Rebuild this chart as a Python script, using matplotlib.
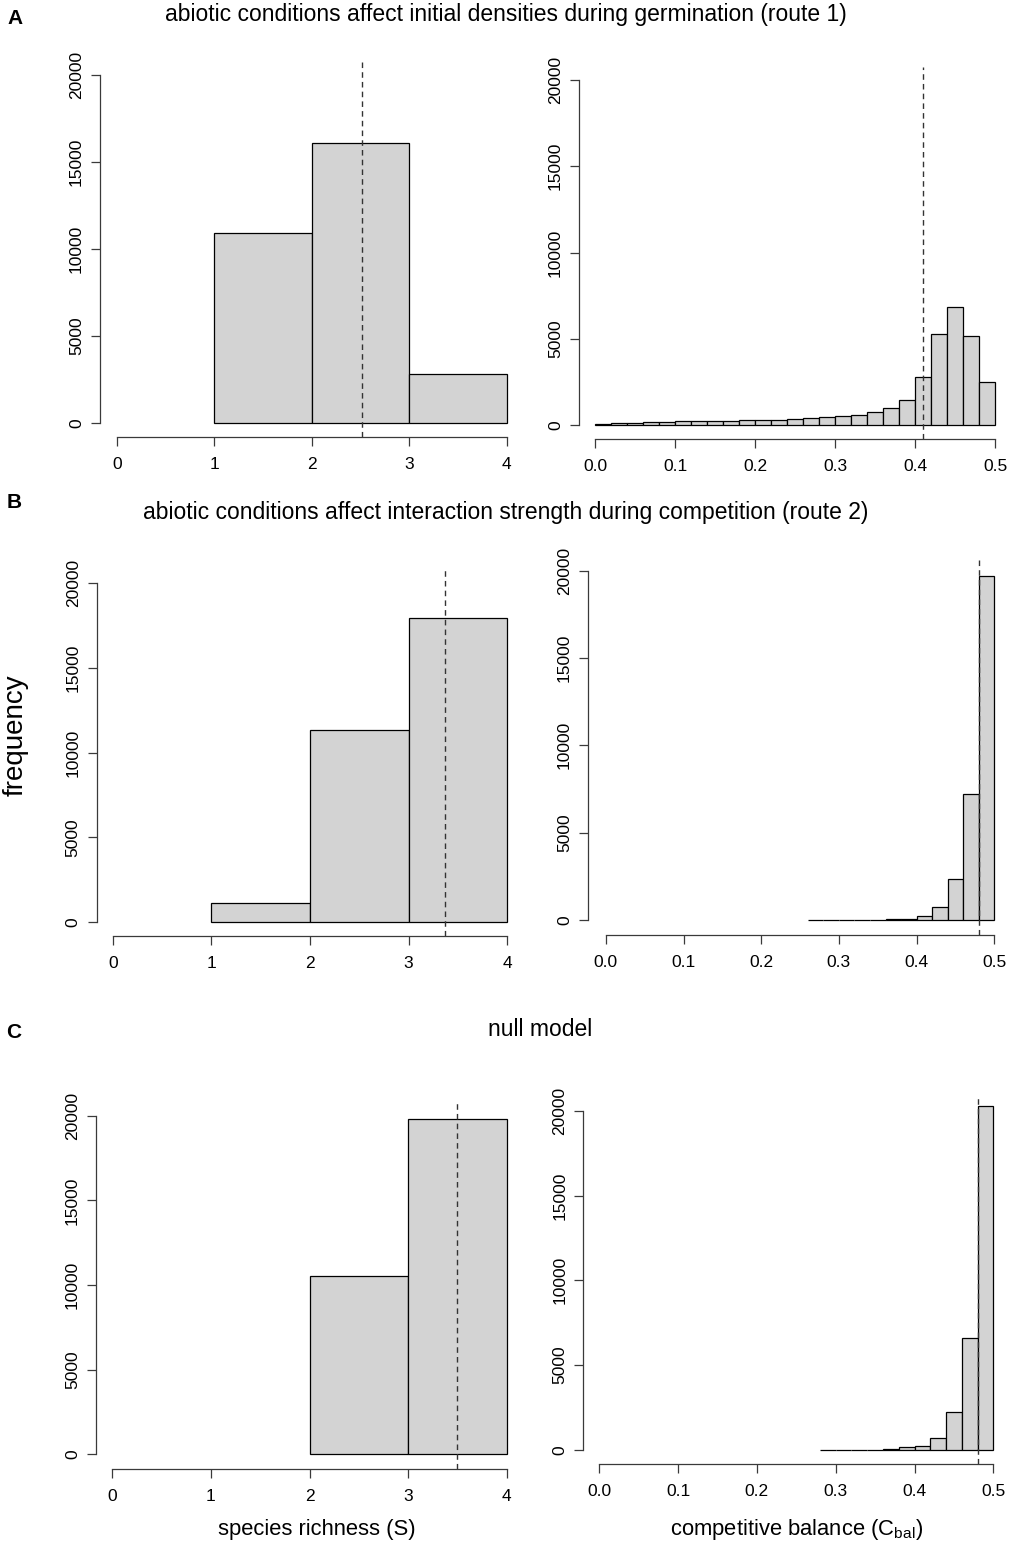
import matplotlib
matplotlib.use('Agg')
import matplotlib.pyplot as plt
import numpy as np

plt.rcParams['font.family'] = ['Liberation Sans', 'DejaVu Sans']
plt.rcParams['mathtext.fontset'] = 'custom'
plt.rcParams['mathtext.rm'] = 'Liberation Sans'

W, H, DPI = 1013, 1549, 100

# ---------------- data ----------------
y_ticks = [0, 5000, 10000, 15000, 20000]
richness_ticks = [0, 1, 2, 3, 4]
cbal_ticks = [0.0, 0.1, 0.2, 0.3, 0.4, 0.5]
cbal_tick_labels = ['0.0', '0.1', '0.2', '0.3', '0.4', '0.5']

# species richness histograms (bin width 1)
A_rich_left_edges = [1, 2, 3]
A_rich_counts = [10900, 16100, 2850]
B_rich_left_edges = [1, 2, 3]
B_rich_counts = [1150, 11300, 17900]
C_rich_left_edges = [2, 3]
C_rich_counts = [10550, 19800]

# competitive balance histograms (bin width 0.02)
A_cbal_start = 0.00
A_cbal_counts = [40, 95, 135, 175, 195, 215, 230, 230, 215, 270, 270, 310, 350,
                 385, 465, 520, 600, 735, 1005, 1470, 2760, 5250, 6860, 5140, 2470]
B_cbal_start = 0.26
B_cbal_counts = [5, 5, 10, 15, 25, 40, 80, 210, 740, 2320, 7200, 19700]
C_cbal_start = 0.28
C_cbal_counts = [5, 8, 15, 25, 60, 150, 250, 730, 2230, 6600, 20300]
cbal_binwidth = 0.02

# means (dashed lines)
A_rich_mean, A_cbal_mean = 2.52, 0.41
B_rich_mean, B_cbal_mean = 3.37, 0.48
C_rich_mean, C_cbal_mean = 3.50, 0.48

titles = ['abiotic conditions affect initial densities during germination (route 1)',
          'abiotic conditions affect interaction strength during competition (route 2)',
          'null model']
letters = ['A', 'B', 'C']

# ---------------- layout (pixels) ----------------
# (yaxis_x, xaxis_y, x_a, x_b, px_a, px_b, py0, py20k)
layouts = {
    'A_rich': (100.0, 436.7, 0, 4, 116.7, 506.7, 423.3, 74.7),
    'A_cbal': (579.0, 439.0, 0, 0.5, 595.0, 995.0, 425.0, 80.0),
    'B_rich': (96.7, 936.0, 0, 4, 112.7, 507.3, 922.3, 582.7),
    'B_cbal': (588.0, 935.0, 0, 0.5, 605.8, 994.3, 920.0, 570.7),
    'C_rich': (96.0, 1469.0, 0, 4, 112.3, 506.7, 1454.3, 1115.7),
    'C_cbal': (583.3, 1464.0, 0, 0.5, 599.3, 993.3, 1450.0, 1110.7),
}

fig = plt.figure(figsize=(W / DPI, H / DPI), dpi=DPI)
fig.patch.set_facecolor('white')

BAR_FACE = '#D3D3D3'
AXCOL = '#3a3a3a'
TICKLEN = 6.5  # points
TICKFS = 12.5


def make_ax(key):
    yx, xy, xa, xb, pxa, pxb, py0, py20 = layouts[key]
    sx = (pxb - pxa) / (xb - xa)
    off = pxa - yx
    L, R = yx, pxb + off
    xl = (xa - off / sx, xb + off / sx)
    sy = (py0 - py20) / 20000.0
    B = xy
    T = py20 - 13
    yl = (-(xy - py0) / sy, 20000 + 13 / sy)
    ax = fig.add_axes([L / W, 1 - B / H, (R - L) / W, (B - T) / H])
    ax.set_xlim(*xl)
    ax.set_ylim(*yl)
    ax.patch.set_alpha(0)
    for s in ['top', 'right']:
        ax.spines[s].set_visible(False)
    for s in ['left', 'bottom']:
        ax.spines[s].set_color(AXCOL)
        ax.spines[s].set_linewidth(0.9)
    ax.spines['left'].set_bounds(0, 20000)
    ax.spines['bottom'].set_bounds(xa, xb)
    ax.set_yticks(y_ticks)
    ax.set_yticklabels([str(v) for v in y_ticks], rotation=90, va='center')
    ax.tick_params(axis='both', direction='out', length=TICKLEN, width=0.9,
                   color=AXCOL, labelsize=TICKFS, labelcolor='black')
    ax.tick_params(axis='y', pad=5)
    ax.tick_params(axis='x', pad=8)
    return ax


def rich_panel(key, edges, counts, mean):
    ax = make_ax(key)
    ax.bar(edges, counts, width=1, align='edge', color=BAR_FACE,
           edgecolor='black', linewidth=0.9)
    ax.set_xticks(richness_ticks)
    ax.set_xticklabels([str(v) for v in richness_ticks])
    ax.axvline(mean, color='#333333', linewidth=1.0, linestyle=(0, (4, 3)))
    return ax


def cbal_panel(key, start, counts, mean):
    ax = make_ax(key)
    lefts = [start + i * cbal_binwidth for i in range(len(counts))]
    ax.bar(lefts, counts, width=cbal_binwidth, align='edge', color=BAR_FACE,
           edgecolor='black', linewidth=0.9)
    ax.set_xticks(cbal_ticks)
    ax.set_xticklabels(cbal_tick_labels)
    ax.axvline(mean, color='#333333', linewidth=1.0, linestyle=(0, (4, 3)))
    return ax


rich_panel('A_rich', A_rich_left_edges, A_rich_counts, A_rich_mean)
cbal_panel('A_cbal', A_cbal_start, A_cbal_counts, A_cbal_mean)
rich_panel('B_rich', B_rich_left_edges, B_rich_counts, B_rich_mean)
cbal_panel('B_cbal', B_cbal_start, B_cbal_counts, B_cbal_mean)
rich_panel('C_rich', C_rich_left_edges, C_rich_counts, C_rich_mean)
cbal_panel('C_cbal', C_cbal_start, C_cbal_counts, C_cbal_mean)


def ftext(xp, yp, s, **kw):
    fig.text(xp / W, 1 - yp / H, s, **kw)


# titles and panel letters
TFS = 16.5
ftext(506, 15, titles[0], ha='center', va='center', fontsize=TFS)
ftext(506, 512, titles[1], ha='center', va='center', fontsize=TFS)
ftext(540, 1030, titles[2], ha='center', va='center', fontsize=TFS)
ftext(15, 18, letters[0], ha='center', va='center', fontsize=15, fontweight='bold')
ftext(14, 503, letters[1], ha='center', va='center', fontsize=15, fontweight='bold')
ftext(14, 1033, letters[2], ha='center', va='center', fontsize=15, fontweight='bold')

ftext(16, 735, 'frequency', ha='center', va='center', rotation=90, fontsize=20)
ftext(317, 1530, 'species richness (S)', ha='center', va='center', fontsize=15.8)
ftext(797, 1530, r'competitive balance (C$_{\mathregular{bal}}$)', ha='center',
      va='center', fontsize=15.8)

fig.savefig('out.png', dpi=DPI, facecolor='white')
